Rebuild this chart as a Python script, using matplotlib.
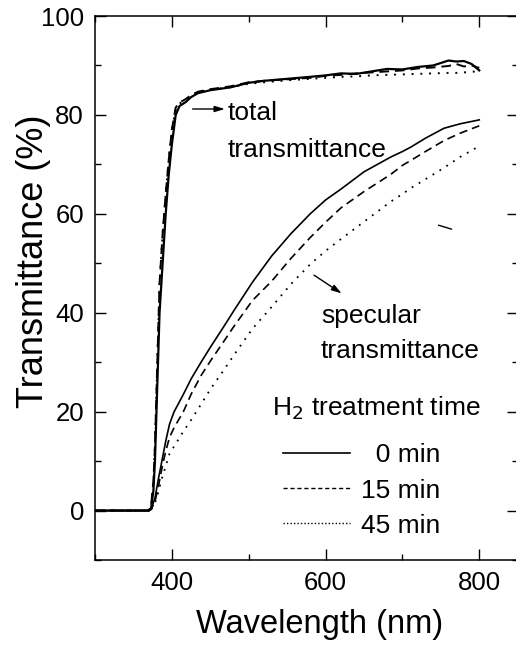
import matplotlib
matplotlib.use("Agg")
import matplotlib.pyplot as plt
from matplotlib.lines import Line2D
from matplotlib.ticker import MultipleLocator

plt.rcParams['font.family'] = ['Liberation Sans', 'DejaVu Sans']

# total transmittance (nm, %)
total_wl = [300, 360, 370, 373, 376, 378, 380, 382, 384, 388, 392, 396, 400, 405,
            410, 418, 425, 434, 450, 477, 500, 520, 550, 580, 600, 620, 640, 660,
            680, 700, 720, 740, 760, 770, 780, 790, 800]
total_0 = [0, 0, 0, 0.5, 4, 10, 20, 30, 40, 50, 60, 68, 74, 80,
           81.8, 82.6, 83.6, 84.4, 85, 85.6, 86.5, 86.9, 87.3, 87.7, 88.0, 88.4, 88.3, 88.8,
           89.3, 89.2, 89.7, 90.0, 91.0, 90.8, 90.9, 90.3, 89.0]
total_15 = [0, 0, 0, 1, 6, 13, 24, 35, 46, 56, 64, 71, 77, 81.5,
            82.5, 83.2, 84, 84.7, 85.2, 85.8, 86.6, 86.9, 87.2, 87.5, 87.9, 88.1, 88.4, 88.6,
            88.8, 89.0, 89.4, 89.6, 89.9, 90.3, 89.8, 90.0, 89.5]
total_45 = [0, 0, 0, 1, 6, 13, 24, 35, 46, 56, 64, 71, 77, 81.2,
            82.3, 83.1, 83.9, 84.6, 85.1, 85.6, 86.3, 86.6, 87.0, 87.3, 87.5, 87.7, 87.8, 88.0,
            88.1, 88.2, 88.3, 88.4, 88.5, 88.5, 88.6, 88.7, 88.9]

# specular transmittance (nm, %)
spec_wl = [300, 360, 370, 373, 378, 382, 387, 392, 397, 403, 415, 425, 438, 450, 468,
           481, 505, 530, 555, 580, 600, 620, 650, 685, 700, 711, 730, 754, 775, 800]
spec_0 = [0, 0, 0, 0.3, 2.5, 6, 10, 14, 17.5, 20, 23.5, 26.6, 30.0, 33.0, 37.3,
          40.5, 46.2, 51.5, 56, 60, 62.8, 65, 68.5, 71.5, 72.6, 73.5, 75.3, 77.3, 78.2, 79]
spec_15 = [0, 0, 0, 0.2, 1.8, 4.5, 8.5, 12, 14.8, 16.8, 20, 23.5, 27.3, 30.2, 34.3,
           37.3, 42.5, 46.4, 51.0, 55.2, 58.3, 61.2, 64.5, 68, 69.8, 70.8, 72.6, 74.8, 76.3, 77.8]
spec_45 = [0, 0, 0, 0.2, 1.5, 3.5, 6.5, 9, 11.5, 13, 16.0, 18.3, 21.5, 24.5, 28.5,
           31.5, 36.8, 41.2, 45.8, 49.8, 52.5, 54.9, 58.4, 62.5, 64, 65.2, 67, 69.3, 71.5, 73.7]

legend_title = 'H$_2$ treatment time'
legend_labels = ['  0 min', '15 min', '45 min']

SOLID = '-'
DASHED = (0, (5, 3))
DOTTED = (0, (1, 3.5))

fig = plt.figure(figsize=(5.16, 6.46), dpi=100)
ax = fig.add_axes([0.1841, 0.1331, 0.8192, 0.8421])

ax.plot(total_wl, total_0, color='black', lw=1.6, ls=SOLID)
ax.plot(total_wl, total_15, color='black', lw=1.4, ls=DASHED)
ax.plot(total_wl, total_45, color='black', lw=1.4, ls=DOTTED)

ax.plot(spec_wl, spec_0, color='black', lw=1.2, ls=SOLID)
ax.plot(spec_wl, spec_15, color='black', lw=1.2, ls=DASHED)
ax.plot(spec_wl, spec_45, color='black', lw=1.3, ls=DOTTED)

ax.set_xlim(300, 850)
ax.set_ylim(-10, 100)
ax.xaxis.set_major_locator(MultipleLocator(200))
ax.xaxis.set_minor_locator(MultipleLocator(100))
ax.yaxis.set_major_locator(MultipleLocator(20))
ax.yaxis.set_minor_locator(MultipleLocator(10))
ax.tick_params(which='both', direction='in', top=True, right=True, width=1.0)
ax.tick_params(which='major', length=8, labelsize=18.5, pad=8)
ax.tick_params(which='minor', length=4)
for s in ax.spines.values():
    s.set_linewidth(1.1)

ax.set_xlabel('Wavelength (nm)', fontsize=23.5, labelpad=10)
ax.xaxis.label.set_x(0.532)
ax.set_ylabel('Transmittance (%)', fontsize=26)
ax.yaxis.set_label_coords(-0.105, 0.549)

# annotations
txt = dict(fontsize=19, color='black', ha='left', va='baseline')
ax.text(473, 78.9, 'total', **txt)
ax.text(473, 71.5, 'transmittance', **txt)
ax.text(594, 38.0, 'specular', **txt)
ax.text(594, 30.8, 'transmittance', **txt)
ax.text(530, 19.2, legend_title, **txt)

arrow = dict(arrowstyle='-|>,head_length=0.6,head_width=0.18', color='black', lw=1.0,
             shrinkA=0, shrinkB=0)
ax.annotate('', xy=(469, 81.2), xytext=(427, 81.2), arrowprops=arrow)
ax.annotate('', xy=(621, 43.9), xytext=(585, 47.6), arrowprops=arrow)
# small stray mark in the scan
ax.annotate('', xy=(764, 56.9), xytext=(747, 57.7),
            arrowprops=dict(arrowstyle='-', color='black', lw=1.0, shrinkA=0, shrinkB=0))

handles = [Line2D([], [], color='black', lw=1.2, ls=SOLID),
           Line2D([], [], color='black', lw=1.0, ls=(0, (3, 2))),
           Line2D([], [], color='black', lw=1.0, ls=(0, (1, 1.5)))]
leg = ax.legend(handles, legend_labels, fontsize=19, frameon=False,
                handlelength=2.55, handletextpad=0.4, labelspacing=0.42,
                loc='upper left', bbox_to_anchor=(0.445, 0.2142),
                borderpad=0, borderaxespad=0)

fig.savefig('out.png', dpi=100)
